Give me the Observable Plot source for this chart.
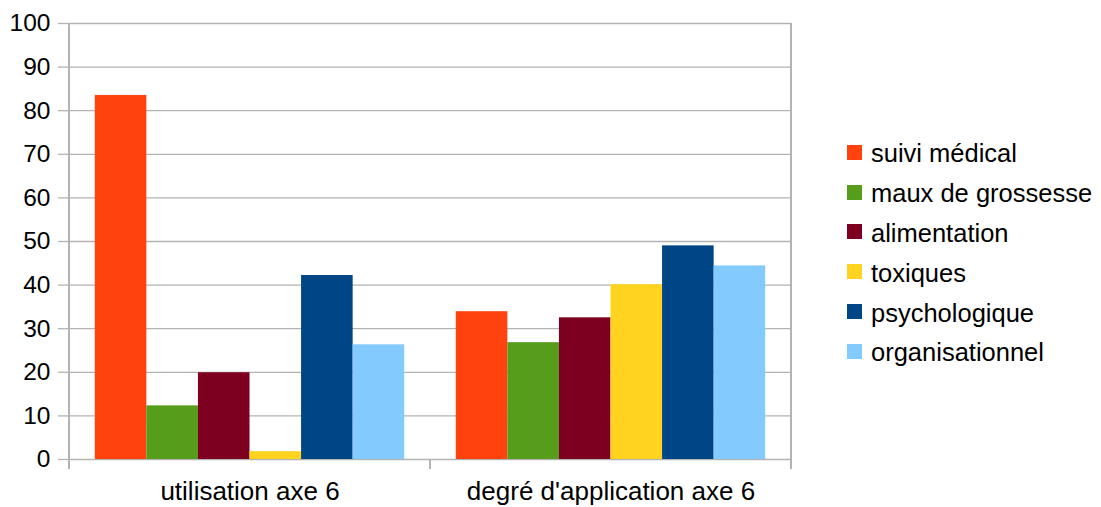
<!DOCTYPE html>
<html><head><meta charset="utf-8">
<script src="https://cdn.jsdelivr.net/npm/d3@7"></script>
<script src="https://cdn.jsdelivr.net/npm/@observablehq/plot@0.6"></script>
<style>
body{margin:0;background:#fff;font-family:"Liberation Sans",Arial,sans-serif;}
#wrap{position:relative;width:1101px;height:507px;overflow:hidden;}
#wrap svg{display:block;}
#legend{position:absolute;left:847px;top:134px;}
.row{display:flex;align-items:center;height:39.8px;font-size:25.5px;color:#000;white-space:nowrap;}
.sw{width:15px;height:15px;margin-right:9px;margin-top:-3px;flex:none;}
</style></head><body><div id="wrap"><div id="legend"></div></div><script>
const groups = ["utilisation axe 6", "degré d'application axe 6"];
const series = ["suivi médical", "maux de grossesse", "alimentation", "toxiques", "psychologique", "organisationnel"];
const colors = ["#ff420e", "#579d1c", "#7e0021", "#ffd320", "#004586", "#83caff"];
const valuesUtilisation = [83.5, 12.3, 19.9, 1.8, 42.2, 26.3];
const valuesApplication = [33.9, 26.8, 32.5, 40.1, 49.0, 44.4];
const yTicks = [0, 10, 20, 30, 40, 50, 60, 70, 80, 90, 100];

const data = [];
series.forEach((s, i) => {
  data.push({group: groups[0], series: s, value: valuesUtilisation[i]});
  data.push({group: groups[1], series: s, value: valuesApplication[i]});
});

const grid = "#b3b3b3";
const plot = Plot.plot({
  width: 1101, height: 507,
  marginLeft: 69, marginRight: 310, marginTop: 23, marginBottom: 48,
  style: {fontFamily: "Liberation Sans, Arial, sans-serif", fontSize: "24px", color: "#000", background: "#fff", overflow: "visible"},
  fx: {domain: groups, padding: 0, label: null, round: false},
  x: {domain: series, paddingInner: 0, paddingOuter: 0.5, round: false, axis: null},
  y: {domain: [0, 100], ticks: yTicks, label: null},
  color: {domain: series, range: colors},
  marks: [
    Plot.gridY(yTicks, {stroke: grid, strokeOpacity: 1, strokeWidth: 1.3}),
    Plot.barY(data, {fx: "group", x: "series", y: "value", fill: "series", insetLeft: 0, insetRight: 0}),
    Plot.axisY(yTicks, {tickSize: 11, tickPadding: 8, stroke: grid, strokeWidth: 1.3, fontSize: 24.5, label: null}),
    Plot.axisFx({anchor: "bottom", tickSize: 0, tickPadding: 22, fontSize: 26, label: null})
  ]
});

const fx = plot.scale("fx");
const y = plot.scale("y");
const y0 = y.apply(0), yTop = y.apply(100);
const svg = d3.select(plot);
const edges = groups.map(g => fx.apply(g));
edges.push(edges[edges.length - 1] + fx.bandwidth);
edges.forEach((xv, i) => {
  const full = i === 0 || i === edges.length - 1;
  svg.append("line")
    .attr("x1", xv).attr("x2", xv)
    .attr("y1", full ? yTop : y0).attr("y2", y0 + 10)
    .attr("stroke", grid).attr("stroke-width", 2);
});

const wrap = document.getElementById("wrap");
wrap.insertBefore(plot, wrap.firstChild);

const legend = document.getElementById("legend");
series.forEach((s, i) => {
  const row = document.createElement("div");
  row.className = "row";
  const sw = document.createElement("div");
  sw.className = "sw";
  sw.style.background = colors[i];
  const t = document.createElement("span");
  t.textContent = s;
  row.appendChild(sw); row.appendChild(t);
  legend.appendChild(row);
});
</script></body></html>
